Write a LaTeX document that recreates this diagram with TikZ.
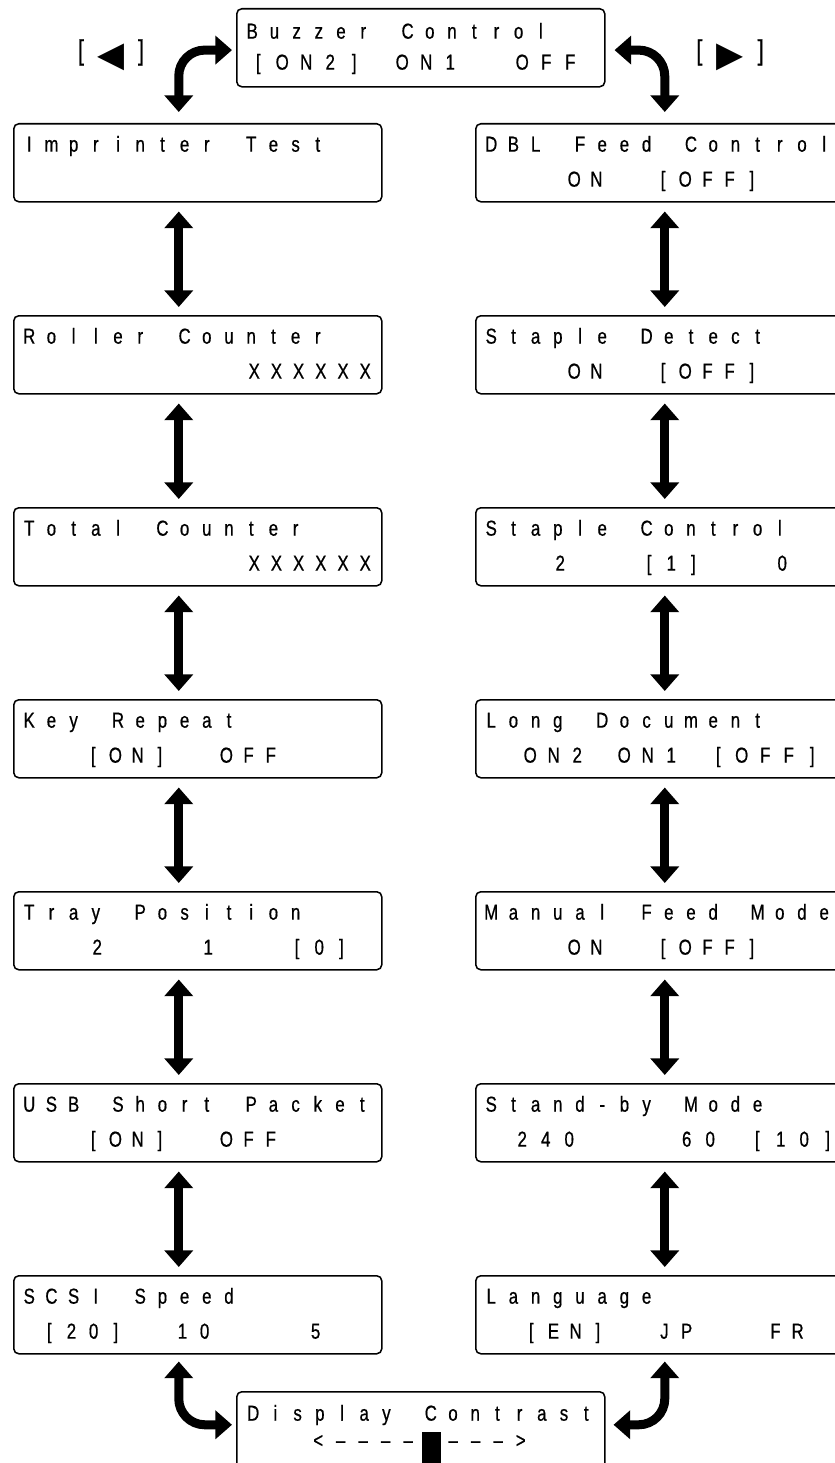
\documentclass[tikz,border=0pt]{standalone}
\usepackage{fontspec}
\setmainfont{Liberation Sans}[FakeStretch=0.78, FakeBold=0.6]
\newfontfamily\keyfont{DejaVu Sans}
\usetikzlibrary{arrows.meta}

% one pixel of the panel drawing
\newlength{\lcdpx}
\setlength{\lcdpx}{0.03cm}

% a display line: every character sits in a cell of #1 pixels, _ is a blank cell
\ExplSyntaxOn
\NewDocumentCommand{\lcdline}{mm}
  {
    \str_map_inline:nn {#2}
      {
        \str_if_eq:nnTF {##1} {_}
          { \makebox[#1\lcdpx]{} }
          { \makebox[#1\lcdpx][c]{##1} }
      }
  }
\ExplSyntaxOff

% [cell of second line] name, left, top, first line, centre of first cell of second line, second line
\newcommand{\lcdscreen}[7][22.2]{%
  \node[screen] (#2) at (#3,#4) {};
  \node[row] (#2-1) at (#3+4.9,#4+21) {\lcdline{22.2}{#5}};
  \if\relax\detokenize{#7}\relax\else
    \node[row] (#2-2) at (#6-#1/2,#4+56) {\lcdline{#1}{#7}};
  \fi
}

\begin{document}
\begin{tikzpicture}[x=0.03cm, y=-0.03cm,
    screen/.style={draw, line width=1.3pt, rounded corners=0.15cm, anchor=north west,
      minimum width=11.04cm, minimum height=2.34cm, inner sep=0pt},
    row/.style={anchor=west, inner sep=0pt, text height=0.46cm, text depth=0pt,
      font=\fontsize{18.5pt}{21pt}\selectfont},
    updown/.style={line width=0.27cm, <->, >={Triangle[width=0.84cm,length=0.5cm]}},
    turn/.style={updown, rounded corners=0.78cm},
    keylabel/.style={inner sep=0pt, font=\fontsize{24pt}{26pt}\selectfont}]

  \useasboundingbox (0,0) rectangle (834,1463);

  % top screen and the two keys
  \node[screen] (buzzer) at (236,8) {};
  \node[row] (buzzer-1) at (252-11.1,31) {\lcdline{22.2}{Buzzer Control}};
  \node[row] (buzzer-2) at (258-12,62) {\lcdline{24}{[ON2]_ON1__OFF}};

  \node[keylabel] (leftkey) at (111,55) {\makebox[0.9cm]{[}\makebox[0.9cm]{\keyfont\fontsize{30pt}{30pt}\selectfont\raisebox{-0.2cm}{◀}}\makebox[0.9cm]{]}};
  \node[keylabel] (rightkey) at (730,55) {\makebox[0.92cm]{[}\makebox[0.92cm]{\keyfont\fontsize{30pt}{30pt}\selectfont\raisebox{-0.2cm}{▶}}\makebox[0.92cm]{]}};

  % left column
  \lcdscreen{imprinter}{13}{123}{Imprinter Test}{0}{}
  \lcdscreen{roller}{13}{315}{Roller Counter}{254}{XXXXXX}
  \lcdscreen{total}{13}{507}{Total Counter}{254}{XXXXXX}
  \lcdscreen{keyrepeat}{13}{699}{Key Repeat}{93}{[ON]__OFF}
  \lcdscreen{tray}{13}{891}{Tray Position}{97}{2____1___[0]}
  \lcdscreen{usb}{13}{1083}{USB Short Packet}{93}{[ON]__OFF}
  \lcdscreen{scsi}{13}{1275}{SCSI Speed}{49}{[20]__10____5}

  % right column
  \lcdscreen{dbl}{475}{123}{DBL Feed Control}{574}{ON__[OFF]}
  \lcdscreen{stapledetect}{475}{315}{Staple Detect}{574}{ON__[OFF]}
  \lcdscreen{staplecontrol}{475}{507}{Staple Control}{560}{2___[1]___0}
  \lcdscreen[23.5]{longdoc}{475}{699}{Long Document}{530}{ON2_ON1_[OFF]}
  \lcdscreen{manual}{475}{891}{Manual Feed Mode}{574}{ON__[OFF]}
  \lcdscreen[23.5]{standby}{475}{1083}{Stand-by Mode}{522}{240____60_[10]}
  \lcdscreen{language}{475}{1275}{Language}{531}{[EN]__JP___FR}

  % bottom screen
  \node[screen] (contrast) at (236,1391) {};
  \node[row] (contrast-1) at (253-11.1,1413) {\lcdline{22.2}{Display Contrast}};
  \node[row] (contrast-2) at (318-11.25,1440) {\lcdline{22.5}{<––––_–––>}};
  \fill (421.7,1432) rectangle (440.7,1470);

  % arrows
  \foreach \a/\b in {imprinter/roller, roller/total, total/keyrepeat, keyrepeat/tray, tray/usb, usb/scsi}
    \draw[updown] ([xshift=-0.57cm,yshift=-0.27cm]\a.south) -- ([xshift=-0.57cm,yshift=0.24cm]\b.north);
  \foreach \a/\b in {dbl/stapledetect, stapledetect/staplecontrol, staplecontrol/longdoc, longdoc/manual, manual/standby, standby/language}
    \draw[updown] ([xshift=0.15cm,yshift=-0.27cm]\a.south) -- ([xshift=0.15cm,yshift=0.24cm]\b.north);

  \draw[turn] ([xshift=-0.12cm,yshift=-0.07cm]buzzer.west) -| ([xshift=-0.57cm,yshift=0.33cm]imprinter.north);
  \draw[turn] ([xshift=0.27cm,yshift=-0.07cm]buzzer.east) -| ([xshift=0.15cm,yshift=0.33cm]dbl.north);
  \draw[turn] ([xshift=-0.57cm,yshift=-0.21cm]scsi.south) |- ([xshift=-0.12cm,yshift=0.18cm]contrast.west);
  \draw[turn] ([xshift=0.15cm,yshift=-0.21cm]language.south) |- ([xshift=0.24cm,yshift=0.18cm]contrast.east);
\end{tikzpicture}
\end{document}
